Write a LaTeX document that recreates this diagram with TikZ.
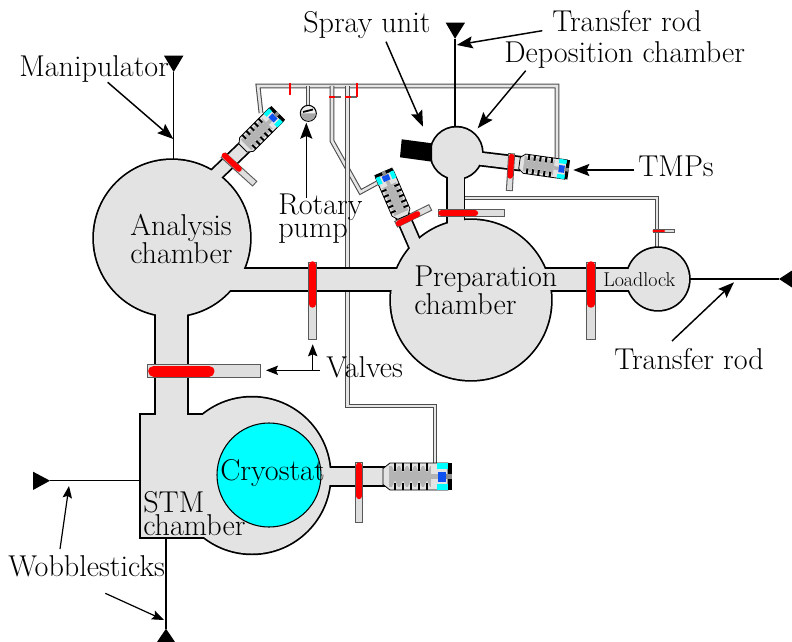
\documentclass[tikz,border=0pt]{standalone}
\usetikzlibrary{arrows.meta}
\definecolor{chambergray}{HTML}{E3E3E3}
\definecolor{rotorgray}{HTML}{B4B4B4}
\definecolor{pumpblue}{HTML}{0F50F0}
\definecolor{cryocyan}{HTML}{00FFFF}
% every shape that makes up the vacuum vessel, outlined once and filled once
\newcommand{\vessels}{
  \path[vessel] (anaC) circle[radius=78];
  \path[vessel] (prepC) circle[radius=80];
  \path[vessel] (depoC) circle[radius=25.5];
  \path[vessel] (loadC) circle[radius=31];
  \path[vessel] (stmC) circle[radius=78];
  \path[vessel] (210,269) rectangle (420,290);
  \path[vessel] (530,269) rectangle (640,290);
  \path[vessel] (156,300) rectangle (187,420);
  \path[vessel] (141,415) rectangle (240,537);
  \path[vessel] (310,468) rectangle (384,485);
  \path[vessel] (447.5,170) rectangle (463.5,235);
  \path[vessel] (195.8,185.7) -- (239.8,143.7) -- (248,152) -- (204,194) -- cycle;
  \path[vessel] (425.5,253.8) -- (408.5,214.6) -- (397.5,219.4) -- (414.5,258.6) -- cycle;
  \path[vessel] (470.9,151.6) -- (520.3,157.5) -- (518.7,169.5) -- (469.1,163.4) -- cycle;
}
% gate valve: housing from #1 to #2, red plate from #3 to #4, width #5
\newcommand{\valve}[5]{
  \draw[line width=#5pt, draw=black!65] #1 -- #2;
  \draw[line width=#5pt-1.6pt, draw=black!13, shorten >=.8pt, shorten <=.8pt] #1 -- #2;
  \draw[line width=.78*#5pt, red, line cap=round] #3 -- #4;
}
\tikzset{
  tmppump/.pic={
    \draw[fill=chambergray, line width=.6pt] (0,-8) -- (7,-13.5) -- (65,-13.5)
        -- (65,13.5) -- (7,13.5) -- (0,8) -- cycle;
    \fill[rotorgray] (6,-10.5) rectangle (48,10.5);
    \fill[rotorgray] (48,-2.5) rectangle (55,2.5);
    \foreach \x in {12,20,28,36,44} {
      \fill[chambergray] (\x-3.2,-11) -- (\x+3.2,-11) -- (\x,-4) -- cycle;
      \fill[chambergray] (\x-3.2,11) -- (\x+3.2,11) -- (\x,4) -- cycle;
      \fill (\x-1.4,-13.5) rectangle (\x+1.4,-6);
      \fill (\x-1.4,13.5) rectangle (\x+1.4,6);
    }
    \fill[cryocyan] (54,-13.5) rectangle (65,-7.5);
    \fill[cryocyan] (54,13.5) rectangle (65,7.5);
    \fill[pumpblue] (55,-5) rectangle (63,5);
    \fill (65,-13.5) rectangle (69,13.5);
    \fill[black!45] (63,-2.5) rectangle (69,2.5);
  }
}
\begin{document}
\begin{tikzpicture}[
    x=.75pt, y=-.75pt,
    lbl/.style  = {font=\fontsize{22.6}{17}\selectfont, inner sep=0pt, anchor=base west, align=left},
    arr/.style  = {-{Stealth[length=12pt, width=9pt, inset=2pt]}, line width=1.1pt},
    arrs/.style = {-{Stealth[length=9pt, width=7pt, inset=1.5pt]}, line width=.9pt},
    rod/.style  = {line width=1.1pt},
    tip/.style  = {fill=black},
    pipe/.style = {draw=black!70, line width=.8pt, double=black!10, double distance=2pt, line join=miter},
    stub/.style = {draw=black!60, line width=1.5pt},
    stubr/.style= {draw=red, line width=1.4pt},
  ]
  \useasboundingbox (0,0) rectangle (792,642);
  \coordinate (anaC) at (172,238);
  \coordinate (prepC) at (471,300);
  \coordinate (depoC) at (456.5,153);
  \coordinate (loadC) at (658,279);
  \coordinate (stmC) at (252,475.5);

  % pumping lines run behind the chambers
  \draw[pipe] (261,113) -- (258,86) -- (557,86) -- (557,158);
  \draw[pipe] (332,86) -- (332,141) -- (360.5,192) -- (377,183);
  \draw[pipe] (347.5,86) -- (347.5,406) -- (435,406) -- (435,465);
  \draw[pipe] (463,198) -- (657,198) -- (657,255);
  \draw[pipe] (308,86) -- (308,106);

  % rods with their handles
  \coordinate (manipEnd) at (173.7,72);
  \coordinate (rodTopEnd) at (455,38.7);
  \coordinate (rodLoadEnd) at (779,279);
  \coordinate (wobLeftEnd) at (50,480.7);
  \coordinate (wobDownEnd) at (166,628.7);
  \draw[rod] (manipEnd) -- (173.7,165);
  \draw[rod] (rodTopEnd) -- (455,130);
  \draw[rod] (rodLoadEnd) -- (685,279);
  \draw[rod] (wobLeftEnd) -- (145,480.7);
  \draw[rod] (wobDownEnd) -- (166,532);
  \fill[tip] (164,55.7) -- (183.4,55.7) -- (manipEnd) -- cycle;
  \fill[tip] (445.7,22.7) -- (465,22.7) -- (rodTopEnd) -- cycle;
  \fill[tip] (792,270.5) -- (792,287.5) -- (rodLoadEnd) -- cycle;
  \fill[tip] (33,471.7) -- (33,490) -- (wobLeftEnd) -- cycle;
  \fill[tip] (157,642) -- (175,642) -- (wobDownEnd) -- cycle;

  \begin{scope}[vessel/.style={draw=black, line width=2.6pt}]
    \vessels
  \end{scope}
  \begin{scope}[vessel/.style={fill=chambergray}]
    \vessels
  \end{scope}

  \fill (401.7,139.3) -- (432,143.3) -- (432,161.7) -- (400,157.3) -- cycle;
  \draw[fill=cryocyan, line width=.8pt] (269,475) circle[radius=52];

  % gate valves
  \valve{(147,371.3)}{(261,371.3)}{(153.7,371.3)}{(209,371.3)}{10.5}
  \valve{(312.5,262)}{(312.5,340)}{(312.5,265)}{(312.5,304)}{7.2}
  \valve{(591,262)}{(591,340)}{(591,265)}{(591,304)}{7.2}
  \valve{(359.3,462)}{(359.3,522.7)}{(359.3,465.5)}{(359.3,496)}{6}
  \valve{(438.3,213.3)}{(505,213.3)}{(441.5,213.3)}{(475,213.3)}{6}
  \valve{(223,155)}{(255,184)}{(224.5,155.5)}{(239,169)}{5.4}
  \valve{(395.7,224.4)}{(430.7,207.3)}{(398.5,223.5)}{(417.5,214)}{5.4}
  \valve{(511.7,153.3)}{(509.3,191)}{(511.6,156.5)}{(510.2,176)}{5.2}
  \valve{(652.5,231)}{(675,231)}{(653.5,231)}{(664,231)}{2.4}

  % small valves on the pumping lines
  \draw[stub] (329,96.7) -- (341,96.7);
  \draw[stubr] (329,96.7) -- (335,96.7);
  \draw[stub] (345,96.7) -- (357,96.7);
  \draw[stubr] (345,96.7) -- (351,96.7);
  \draw[stubr] (357,83) -- (357,96.7);
  \draw[stubr] (289.7,83) -- (289.7,95);

  % rotary pump
  \draw[fill=black!6, line width=.8pt] (308.3,113.3) circle[radius=8];
  \fill[black!35] (300.8,113.3) arc[start angle=180, end angle=0, radius=7.5] -- cycle;
  \draw[line width=1.3pt] (303,112) -- (313,109.5);

  % turbo pumps
  \pic[rotate=45, scale=.72] at (243,148) {tmppump};
  \pic[rotate=113.4, scale=.72] at (403,217) {tmppump};
  \pic[rotate=-8, scale=.72] at (519.5,163) {tmppump};
  \pic at (383,476.5) {tmppump};

  % labels
  \node[lbl] (sprayL) at (303,32.3) {Spray unit};
  \node[lbl] (rodTopL) at (552,32) {Transfer rod};
  \node[lbl] (depoL) at (504,63) {Deposition chamber};
  \node[lbl] (manipL) at (19,76) {Manipulator};
  \node[lbl] (tmpL) at (638,176.7) {TMPs};
  \node[lbl, anchor=north west] (rotaryL) at (278,194) {Rotary\\pump};
  \node[lbl, anchor=north west] (anaL) at (130,214) {Analysis\\chamber};
  \node[lbl, anchor=north west] (prepL) at (414,266) {Preparation\\chamber};
  \node[lbl, font=\fontsize{15}{17}\selectfont] (loadL) at (603,286) {Loadlock};
  \node[lbl] (valvesL) at (326,377.7) {Valves};
  \node[lbl] (rodLoadL) at (614,369) {Transfer rod};
  \node[lbl] (cryoL) at (220,480) {Cryostat};
  \node[lbl, anchor=north west] (stmL) at (143,491) {STM\\chamber};
  \node[lbl] (wobL) at (8,576.7) {Wobblesticks};

  % pointers
  \coordinate (valvesT) at (320,370.3);
  \coordinate (valvesB) at (312.7,370.3);
  \draw[arr] (386,41.7) -- (423,126.7);
  \draw[arr] (525.7,70.7) -- (477.7,128.3);
  \draw[arr] (542.3,30.7) -- (456.7,45);
  \draw[arr] (107.7,82.3) -- (173.3,139);
  \draw[arr] (634,170) -- (573.3,170);
  \draw[arr] (306.3,198) -- (306.3,122.7);
  \draw[arrs] (valvesT) -- (266,370.3);
  \draw[arrs] (valvesB) -- (312.7,344.3);
  \draw[arr] (672,341) -- (734,282.3);
  \draw[arrs] (60,549) -- (69,486);
  \draw[arrs] (105.3,593.3) -- (164,620);
\end{tikzpicture}
\end{document}
